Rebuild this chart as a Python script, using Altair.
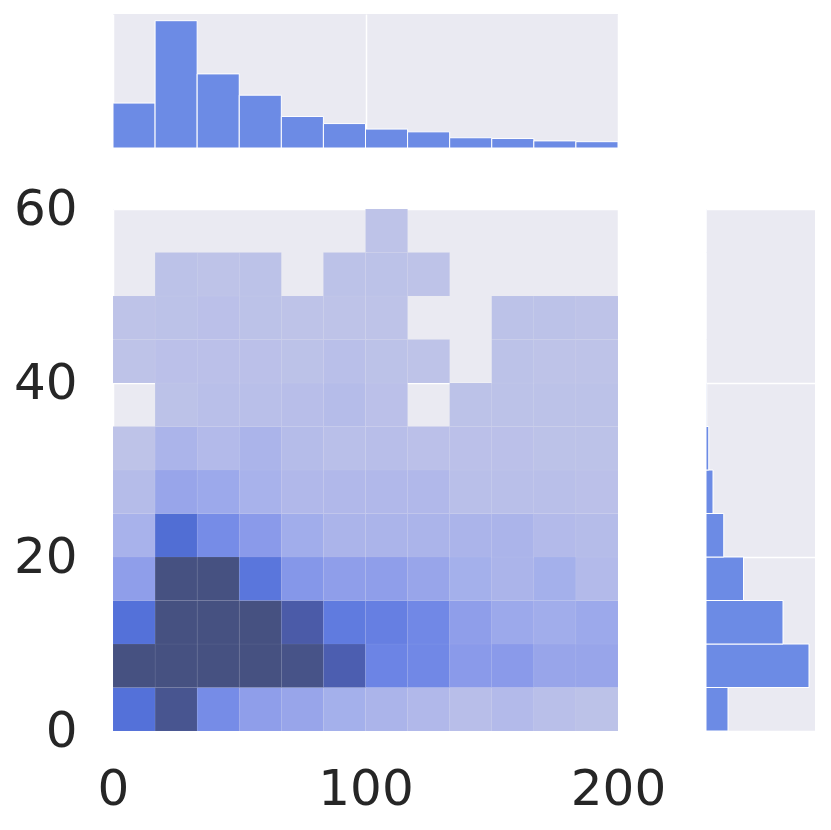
import altair as alt
import pandas as pd
import numpy as np

# bin edges (x: 12 bins over 0-200, y: 12 bins over 0-60)
x_edges = [0, 16.667, 33.333, 50, 66.667, 83.333, 100, 116.667, 133.333, 150, 166.667, 183.333, 200]
y_edges = [0, 5, 10, 15, 20, 25, 30, 35, 40, 45, 50, 55, 60]

# joint 2D histogram counts, rows from y=0-5 (bottom) upward, columns x left to right
row_00 = [28, 38, 22, 17, 15, 12, 10, 8, 5, 7, 4, 2]
row_05 = [52, 61, 58, 47, 39, 34, 24, 23, 18, 18, 15, 15]
row_10 = [28, 66, 71, 49, 35, 26, 25, 23, 17, 14, 13, 14]
row_15 = [17, 63, 55, 27, 19, 17, 17, 15, 12, 10, 12, 7]
row_20 = [11, 29, 22, 18, 13, 10, 10, 10, 10, 10, 7, 6]
row_25 = [6, 15, 14, 11, 8, 8, 8, 8, 4, 4, 4, 3]
row_30 = [1, 10, 7, 10, 6, 4, 5, 3, 3, 3, 2, 2]
row_35 = [0, 2, 4, 4, 5, 6, 3, 0, 2, 2, 2, 2]
row_40 = [1, 3, 3, 3, 2, 4, 2, 1, 0, 2, 1, 1]
row_45 = [1, 2, 3, 2, 1, 1, 1, 0, 0, 2, 2, 1]
row_50 = [0, 2, 1, 2, 0, 2, 2, 1, 0, 0, 0, 0]
row_55 = [0, 0, 0, 0, 0, 0, 1, 0, 0, 0, 0, 0]
joint_rows = [row_00, row_05, row_10, row_15, row_20, row_25,
              row_30, row_35, row_40, row_45, row_50, row_55]

# marginal histograms
top_counts = [114, 323, 188, 134, 80, 62, 48, 41, 26, 24, 18, 16]
right_counts = [88, 412, 308, 150, 71, 28, 11, 3, 1, 1, 1, 1]

cells = []
for r, row in enumerate(joint_rows):
    for c, n in enumerate(row):
        if n > 0:
            cells.append({"x0": x_edges[c], "x1": x_edges[c + 1],
                          "y0": y_edges[r], "y1": y_edges[r + 1], "count": n})
cells_df = pd.DataFrame(cells)

top_df = pd.DataFrame({"x0": x_edges[:-1], "x1": x_edges[1:], "count": top_counts, "zero": 0})
right_df = pd.DataFrame({"y0": y_edges[:-1], "y1": y_edges[1:], "count": right_counts, "zero": 0})

# colour ramp (light -> dark), clamped at the top
ramp_t = [0, 0.1, 0.2, 0.3, 0.4, 0.5, 0.6, 0.7, 0.8, 0.9, 1.0]
ramp_colors = ["#BEC3E8", "#B8BEE9", "#AFB7EA", "#A2AEEB", "#919FEA", "#7E92E9",
               "#6A82E4", "#5270D8", "#4D63C0", "#4A589E", "#465181"]
ramp_domain = [1 + 39 * t for t in ramp_t]

BG = "#EAEAF2"
BAR = "#6C8BE5"
FONT = "DejaVu Sans"
xs = alt.Scale(domain=[0, 200], nice=False, zero=False)
ys = alt.Scale(domain=[0, 60], nice=False, zero=False)

main = alt.Chart(cells_df).mark_rect(stroke="white", strokeOpacity=0.08, strokeWidth=0.5).encode(
    x=alt.X("x0:Q", scale=xs, title=None,
            axis=alt.Axis(values=[0, 100, 200], labelFontSize=50, labelFont=FONT,
                          labelColor="#262626", ticks=False, domain=False, labelFlush=False,
                          gridColor="white", gridWidth=1.5, labelPadding=33, format="d")),
    x2="x1:Q",
    y=alt.Y("y0:Q", scale=ys, title=None,
            axis=alt.Axis(values=[0, 20, 40, 60], labelFontSize=50, labelFont=FONT,
                          labelColor="#262626", ticks=False, domain=False, labelFlush=False,
                          gridColor="white", gridWidth=1.5, labelPadding=36, format="d")),
    y2="y1:Q",
    color=alt.Color("count:Q", legend=None,
                    scale=alt.Scale(domain=ramp_domain, range=ramp_colors, clamp=True,
                                    interpolate="rgb")),
).properties(width=505, height=522, view=alt.ViewBackground(fill=BG, strokeWidth=0))

top = alt.Chart(top_df).mark_rect(color=BAR, stroke="white", strokeWidth=1).encode(
    x=alt.X("x0:Q", scale=xs, title=None,
            axis=alt.Axis(values=[0, 100, 200], labels=False, ticks=False, domain=False,
                          gridColor="white", gridWidth=1.5)),
    x2="x1:Q",
    y=alt.Y("count:Q", scale=alt.Scale(domain=[0, 340], nice=False), axis=None),
    y2="zero:Q",
).properties(width=505, height=134, view=alt.ViewBackground(fill=BG, strokeWidth=0))

blank = alt.Chart(pd.DataFrame({"v": [0]})).mark_point(opacity=0, size=1).encode(
    x=alt.value(50), y=alt.value(60)
).properties(width=109, height=134, view=alt.ViewBackground(fill="white", strokeWidth=0))

right = alt.Chart(right_df).mark_rect(color=BAR, stroke="white", strokeWidth=1).encode(
    y=alt.Y("y0:Q", scale=ys, title=None,
            axis=alt.Axis(values=[0, 20, 40, 60], labels=False, ticks=False, domain=False,
                          gridColor="white", gridWidth=1.5)),
    y2="y1:Q",
    x=alt.X("count:Q", scale=alt.Scale(domain=[0, 436], nice=False), axis=None),
    x2="zero:Q",
).properties(width=109, height=522, view=alt.ViewBackground(fill=BG, strokeWidth=0))

chart = alt.concat(top, blank, main, right, columns=2,
                   spacing={"row": 61, "column": 88}, bounds="flush").configure_view(
    strokeWidth=0).properties(padding={"top": 6, "left": 5, "right": 5, "bottom": 5})

chart.save("out.html", embed_options={"renderer": "svg", "actions": False})
